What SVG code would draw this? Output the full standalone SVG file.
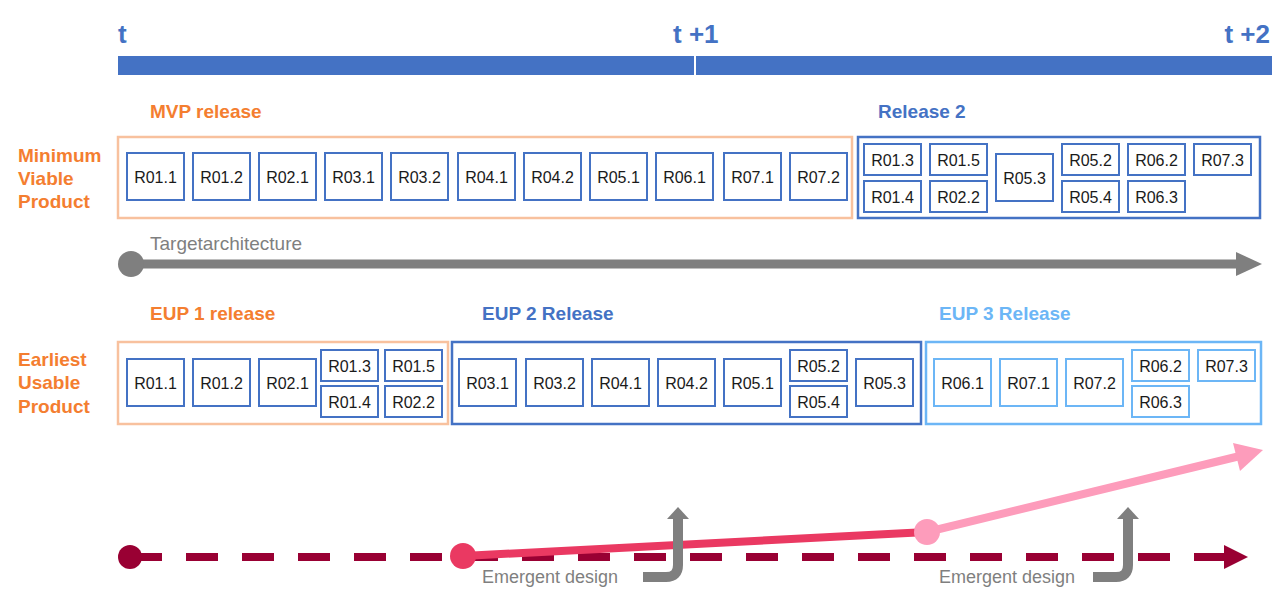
<svg xmlns="http://www.w3.org/2000/svg" width="1280" height="595" viewBox="0 0 1280 595">
<style>
text{font-family:"Liberation Sans",Arial,sans-serif}
.tl{font-size:26px;font-weight:bold;fill:#4472C4}
.hdr{font-size:19px;font-weight:bold}
.or{fill:#F47E30}
.bl{fill:#4472C4}
.lb{fill:#6CB6F6}
.gy{font-size:18px;fill:#7F7F7F}
.r{fill:#fff;stroke:#4472C4;stroke-width:2}
.r3{fill:#fff;stroke:#6CB6F6;stroke-width:2}
.rt{font-size:16px;fill:#1a1a1a;text-anchor:middle}
.oo{fill:#fff;stroke:#F8C19E;stroke-width:2.5}
.ob{fill:#fff;stroke:#4472C4;stroke-width:2.5}
.ol{fill:#fff;stroke:#6CB6F6;stroke-width:2.5}
</style>
<rect width="1280" height="595" fill="#fff"/>
<g id="timeline">
<rect x="118" y="56" width="576" height="19" fill="#4472C4"/>
<rect x="696" y="56" width="576" height="19" fill="#4472C4"/>
<text class="tl" x="118" y="43">t</text>
<text class="tl" x="673" y="43">t +1</text>
<text class="tl" x="1270" y="43" text-anchor="end">t +2</text>
</g>
<g id="labels">
<text class="hdr or"><tspan x="18" y="162">Minimum</tspan><tspan x="18" y="185">Viable</tspan><tspan x="18" y="208">Product</tspan></text>
<text class="hdr or"><tspan x="18" y="366">Earliest</tspan><tspan x="18" y="389">Usable</tspan><tspan x="18" y="413">Product</tspan></text>
<text class="hdr or" x="150" y="118">MVP release</text>
<text class="hdr bl" x="878" y="118">Release 2</text>
<text class="hdr or" x="150" y="320">EUP 1 release</text>
<text class="hdr bl" x="482" y="320">EUP 2 Release</text>
<text class="hdr lb" x="939" y="320">EUP 3 Release</text>
</g>
<g id="mvp">
<rect class="oo" x="118" y="137" width="734" height="81"/>
<rect class="r" x="127" y="153" width="57" height="47"/><text class="rt" x="155.5" y="182.5">R01.1</text>
<rect class="r" x="193" y="153" width="57" height="47"/><text class="rt" x="221.5" y="182.5">R01.2</text>
<rect class="r" x="259" y="153" width="57" height="47"/><text class="rt" x="287.5" y="182.5">R02.1</text>
<rect class="r" x="325" y="153" width="57" height="47"/><text class="rt" x="353.5" y="182.5">R03.1</text>
<rect class="r" x="391" y="153" width="57" height="47"/><text class="rt" x="419.5" y="182.5">R03.2</text>
<rect class="r" x="458" y="153" width="57" height="47"/><text class="rt" x="486.5" y="182.5">R04.1</text>
<rect class="r" x="524" y="153" width="57" height="47"/><text class="rt" x="552.5" y="182.5">R04.2</text>
<rect class="r" x="590" y="153" width="57" height="47"/><text class="rt" x="618.5" y="182.5">R05.1</text>
<rect class="r" x="656" y="153" width="57" height="47"/><text class="rt" x="684.5" y="182.5">R06.1</text>
<rect class="r" x="724" y="153" width="57" height="47"/><text class="rt" x="752.5" y="182.5">R07.1</text>
<rect class="r" x="790" y="153" width="57" height="47"/><text class="rt" x="818.5" y="182.5">R07.2</text>
</g>
<g id="release2">
<rect class="ob" x="858" y="137" width="402" height="81"/>
<rect class="r" x="864" y="144" width="57" height="31"/><text class="rt" x="892.5" y="165.5">R01.3</text>
<rect class="r" x="864" y="181" width="57" height="31"/><text class="rt" x="892.5" y="202.5">R01.4</text>
<rect class="r" x="930" y="144" width="57" height="31"/><text class="rt" x="958.5" y="165.5">R01.5</text>
<rect class="r" x="930" y="181" width="57" height="31"/><text class="rt" x="958.5" y="202.5">R02.2</text>
<rect class="r" x="996" y="154" width="57" height="47"/><text class="rt" x="1024.5" y="183.5">R05.3</text>
<rect class="r" x="1062" y="144" width="57" height="31"/><text class="rt" x="1090.5" y="165.5">R05.2</text>
<rect class="r" x="1062" y="181" width="57" height="31"/><text class="rt" x="1090.5" y="202.5">R05.4</text>
<rect class="r" x="1128" y="144" width="57" height="31"/><text class="rt" x="1156.5" y="165.5">R06.2</text>
<rect class="r" x="1128" y="181" width="57" height="31"/><text class="rt" x="1156.5" y="202.5">R06.3</text>
<rect class="r" x="1194" y="144" width="57" height="31"/><text class="rt" x="1222.5" y="165.5">R07.3</text>
</g>
<g id="eup1">
<rect class="oo" x="118" y="342" width="330" height="82"/>
<rect class="r" x="127" y="359" width="57" height="47"/><text class="rt" x="155.5" y="388.5">R01.1</text>
<rect class="r" x="193" y="359" width="57" height="47"/><text class="rt" x="221.5" y="388.5">R01.2</text>
<rect class="r" x="259" y="359" width="57" height="47"/><text class="rt" x="287.5" y="388.5">R02.1</text>
<rect class="r" x="321" y="350" width="57" height="31"/><text class="rt" x="349.5" y="371.5">R01.3</text>
<rect class="r" x="321" y="386" width="57" height="31"/><text class="rt" x="349.5" y="407.5">R01.4</text>
<rect class="r" x="385" y="350" width="57" height="31"/><text class="rt" x="413.5" y="371.5">R01.5</text>
<rect class="r" x="385" y="386" width="57" height="31"/><text class="rt" x="413.5" y="407.5">R02.2</text>
</g>
<g id="eup2">
<rect class="ob" x="452" y="342" width="469" height="82"/>
<rect class="r" x="459" y="359" width="57" height="47"/><text class="rt" x="487.5" y="388.5">R03.1</text>
<rect class="r" x="526" y="359" width="57" height="47"/><text class="rt" x="554.5" y="388.5">R03.2</text>
<rect class="r" x="592" y="359" width="57" height="47"/><text class="rt" x="620.5" y="388.5">R04.1</text>
<rect class="r" x="658" y="359" width="57" height="47"/><text class="rt" x="686.5" y="388.5">R04.2</text>
<rect class="r" x="724" y="359" width="57" height="47"/><text class="rt" x="752.5" y="388.5">R05.1</text>
<rect class="r" x="790" y="350" width="57" height="31"/><text class="rt" x="818.5" y="371.5">R05.2</text>
<rect class="r" x="790" y="386" width="57" height="31"/><text class="rt" x="818.5" y="407.5">R05.4</text>
<rect class="r" x="856" y="359" width="57" height="47"/><text class="rt" x="884.5" y="388.5">R05.3</text>
</g>
<g id="eup3">
<rect class="ol" x="926" y="342" width="335" height="82"/>
<rect class="r3" x="934" y="359" width="57" height="47"/><text class="rt" x="962.5" y="388.5">R06.1</text>
<rect class="r3" x="1000" y="359" width="57" height="47"/><text class="rt" x="1028.5" y="388.5">R07.1</text>
<rect class="r3" x="1066" y="359" width="57" height="47"/><text class="rt" x="1094.5" y="388.5">R07.2</text>
<rect class="r3" x="1132" y="350" width="57" height="31"/><text class="rt" x="1160.5" y="371.5">R06.2</text>
<rect class="r3" x="1132" y="386" width="57" height="31"/><text class="rt" x="1160.5" y="407.5">R06.3</text>
<rect class="r3" x="1198" y="350" width="57" height="31"/><text class="rt" x="1226.5" y="371.5">R07.3</text>
</g>
<g id="connectors">
<g id="target">
<text class="gy" x="150" y="250" style="font-size:19px">Targetarchitecture</text>
<line x1="131" y1="264" x2="1238" y2="264" stroke="#7F7F7F" stroke-width="9"/>
<polygon points="1236,252 1262,264 1236,276" fill="#7F7F7F"/>
<circle cx="131" cy="264" r="13" fill="#7F7F7F"/>
</g>
<g id="baseline">
<line x1="130" y1="557" x2="1226" y2="557" stroke="#990033" stroke-width="8" stroke-dasharray="32 24"/>
<polygon points="1224,545 1248,557 1224,569" fill="#990033"/>
<circle cx="130" cy="557" r="12" fill="#990033"/>
</g>
<g id="evolution">
<line x1="463" y1="556" x2="927" y2="532" stroke="#EA3962" stroke-width="8"/>
<line x1="927" y1="532" x2="1240" y2="456" stroke="#FD9CBB" stroke-width="8"/>
<polygon points="1233,443 1263,450 1240,471" fill="#FD9CBB"/>
<circle cx="463" cy="556" r="13" fill="#EA3962"/>
<circle cx="927" cy="532" r="13" fill="#FD9CBB"/>
</g>
<g id="emergent">
<path d="M643 577 H666 Q678 577 678 565 V518" fill="none" stroke="#7F7F7F" stroke-width="10"/>
<polygon points="667,519 678,507 689,519" fill="#7F7F7F"/>
<path d="M1093 577 H1116 Q1128 577 1128 565 V518" fill="none" stroke="#7F7F7F" stroke-width="10"/>
<polygon points="1117,519 1128,507 1139,519" fill="#7F7F7F"/>
<text class="gy" x="482" y="583">Emergent design</text>
<text class="gy" x="939" y="583">Emergent design</text>
</g>
</g>
</svg>
